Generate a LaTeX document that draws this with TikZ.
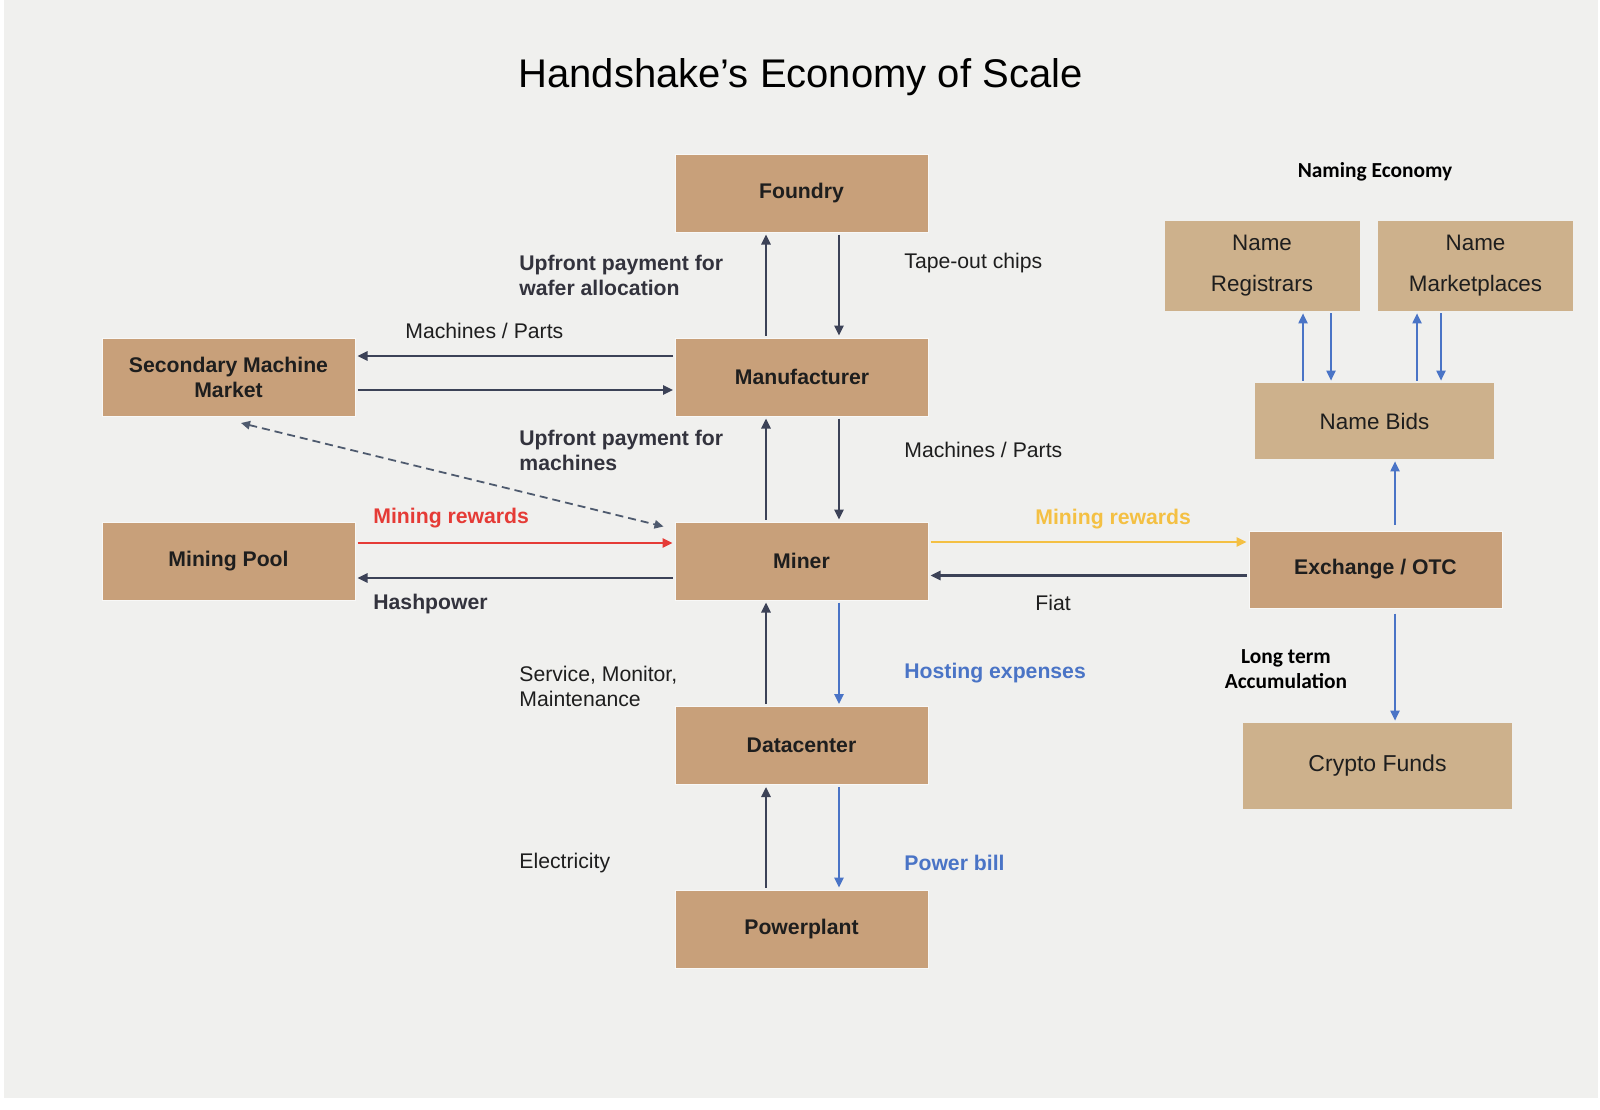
\documentclass[tikz,border=0pt]{standalone}
\usepackage{fontspec}
\setmainfont{Liberation Sans}
\newfontfamily\calibri{Carlito}
\usetikzlibrary{arrows.meta}

\definecolor{bgcol}{HTML}{F0F0EE}
\definecolor{boxcol}{HTML}{C8A07A}
\definecolor{namecol}{HTML}{CDB18C}
\definecolor{linecol}{HTML}{3C4257}
\definecolor{dashcol}{HTML}{4E5A6E}
\definecolor{redcol}{HTML}{E53B36}
\definecolor{yelcol}{HTML}{F4C043}
\definecolor{bluecol}{HTML}{4A74C6}
\definecolor{txtcol}{HTML}{1E1E1E}
\definecolor{lblcol}{HTML}{33333D}

\begin{document}
\begin{tikzpicture}[x=0.5pt,y=-0.5pt,>={Triangle[length=5pt,width=4.6pt]},
  box/.style={fill=boxcol, draw=white!55!bgcol, line width=0.5pt, minimum width=126.5pt, minimum height=39pt,
    inner sep=0pt, align=center, text=txtcol, font=\fontsize{10.6}{12.5}\selectfont\bfseries},
  namebox/.style={fill=namecol, minimum width=97.5pt, minimum height=45pt, inner sep=0pt,
    align=center, text=txtcol, font=\fontsize{11.2}{20.5}\selectfont},
  lbl/.style={anchor=west, inner sep=0pt, align=left, text=txtcol, font=\fontsize{10.6}{12.5}\selectfont},
  blbl/.style={lbl, text=lblcol, font=\fontsize{10.6}{12.5}\selectfont\bfseries},
  cal/.style={inner sep=0pt, align=center, text=black, font=\calibri\fontsize{10.7}{12.5}\selectfont\bfseries},
  darr/.style={->, draw=linecol, line width=1.2pt, shorten <=1pt, shorten >=1pt},
  barr/.style={->, draw=bluecol, line width=0.8pt, shorten <=1pt, shorten >=1pt}]

% page and background
  \useasboundingbox (0,0) rectangle (1600,1109);
  \fill[white] (0,0) rectangle (1600,1109);
  \fill[bgcol] (4,0) rectangle (1598,1098);

% define the boxes
  \node[box] (foundry) at (801.5,193)   {Foundry};
  \node[box] (manu)    at (802,377)     {Manufacturer};
  \node[box] (miner)   at (801.5,561)   {Miner};
  \node[box] (dc)      at (801.5,745.5) {Datacenter};
  \node[box] (plant)   at (801.5,929)   {Powerplant};
  \node[box] (smm)     at (228.5,377.5) {Secondary Machine\\Market};
  \node[box] (pool)    at (228.5,561)   {Mining Pool};
  \node[box, minimum height=38.5pt] (ex) at (1375.5,569.5) {Exchange / OTC};

  \node[namebox] (reg)  at (1262,266)   {Name\\Registrars};
  \node[namebox] (mkt)  at (1475.5,266) {Name\\Marketplaces};
  \node[namebox, minimum width=119.5pt, minimum height=38pt] (bids)  at (1374.5,421) {Name Bids};
  \node[namebox, minimum width=134.5pt, minimum height=43pt, font=\fontsize{11.5}{14}\selectfont] (funds) at (1377.5,766) {Crypto Funds};

% titles
  \node[anchor=base, inner sep=0pt, text=black, font=\fontsize{20}{24}\selectfont] (title) at (800.5,87.7) {Handshake’s Economy of Scale};
  \node[cal] (naming)   at (1375,172)   {Naming Economy};
  \node[cal] (longterm) at (1286,669.5) {Long term\\Accumulation};

% define the links
  \coordinate (u) at (766,0);
  \coordinate (d) at (839,0);
  \draw[darr] (manu.north -| u) -- (foundry.south -| u);
  \draw[darr] (foundry.south -| d) -- (manu.north -| d);
  \draw[darr] (miner.north -| u) -- (manu.south -| u);
  \draw[darr] (manu.south -| d) -- (miner.north -| d);
  \draw[darr] (dc.north -| u) -- (miner.south -| u);
  \draw[barr, line width=1pt] (miner.south -| d) -- (dc.north -| d);
  \draw[darr] (plant.north -| u) -- (dc.south -| u);
  \draw[barr, line width=1pt] (dc.south -| d) -- (plant.north -| d);

  \coordinate (h1) at (0,356);
  \coordinate (h2) at (0,390);
  \coordinate (h3) at (0,543);
  \coordinate (h4) at (0,578);
  \coordinate (h5) at (0,542);
  \coordinate (h6) at (0,575.5);
  \draw[darr] (manu.west |- h1) -- (smm.east |- h1);
  \draw[darr] (smm.east |- h2) -- (manu.west |- h2);
  \draw[darr, draw=redcol] (pool.east |- h3) -- (miner.west |- h3);
  \draw[darr] (miner.west |- h4) -- (pool.east |- h4);
  \draw[darr, draw=yelcol] (miner.east |- h5) -- (ex.west |- h5);
  \draw[darr] (ex.west |- h6) -- (miner.east |- h6);
  \draw[<->, dashed, dash pattern=on 4pt off 2.5pt, draw=dashcol, line width=0.9pt, >={Triangle[length=4.5pt,width=4.2pt]}]
    ([xshift=6.25pt,yshift=-3pt]smm.south) -- ([xshift=-5.5pt,yshift=-2.5pt]miner.north west);

  \coordinate (r1) at ([xshift=20.5pt]reg.south);
  \coordinate (r2) at ([xshift=34.5pt]reg.south);
  \coordinate (m1) at ([xshift=-29.25pt]mkt.south);
  \coordinate (m2) at ([xshift=-17.25pt]mkt.south);
  \draw[barr] (bids.north -| r1) -- (r1);
  \draw[barr] (r2) -- (bids.north -| r2);
  \draw[barr] (bids.north -| m1) -- (m1);
  \draw[barr] (m2) -- (bids.north -| m2);

  \coordinate (e1) at ([xshift=9.75pt]ex.north);
  \coordinate (e2) at ([xshift=9.75pt]ex.south);
  \draw[barr, shorten <=3pt] (e1) -- (bids.south -| e1);
  \draw[barr, shorten <=2.5pt] (e2) -- (funds.north -| e2);

% labels of the links
  \node[blbl] (wafer)   at (519,275.5) {Upfront payment for\\wafer allocation};
  \node[lbl]  (tape)    at (904,263)   {Tape-out chips};
  \node[lbl]  (mpleft)  at (405,331)   {Machines / Parts};
  \node[blbl] (upmach)  at (519,450)   {Upfront payment for\\machines};
  \node[lbl]  (mpright) at (904,450)   {Machines / Parts};
  \node[blbl, text=redcol] (redrew) at (373,518) {Mining rewards};
  \node[blbl] (hash)    at (373,604)   {Hashpower};
  \node[blbl, text=yelcol] (yelrew) at (1035,519) {Mining rewards};
  \node[lbl]  (fiat)    at (1035,603)  {Fiat};
  \node[lbl]  (service) at (519,686)   {Service, Monitor,\\Maintenance};
  \node[blbl, text=bluecol] (hosting) at (904,673) {Hosting expenses};
  \node[lbl]  (elec)    at (519,863)   {Electricity};
  \node[blbl, text=bluecol] (bill) at (904,863) {Power bill};

\end{tikzpicture}
\end{document}
